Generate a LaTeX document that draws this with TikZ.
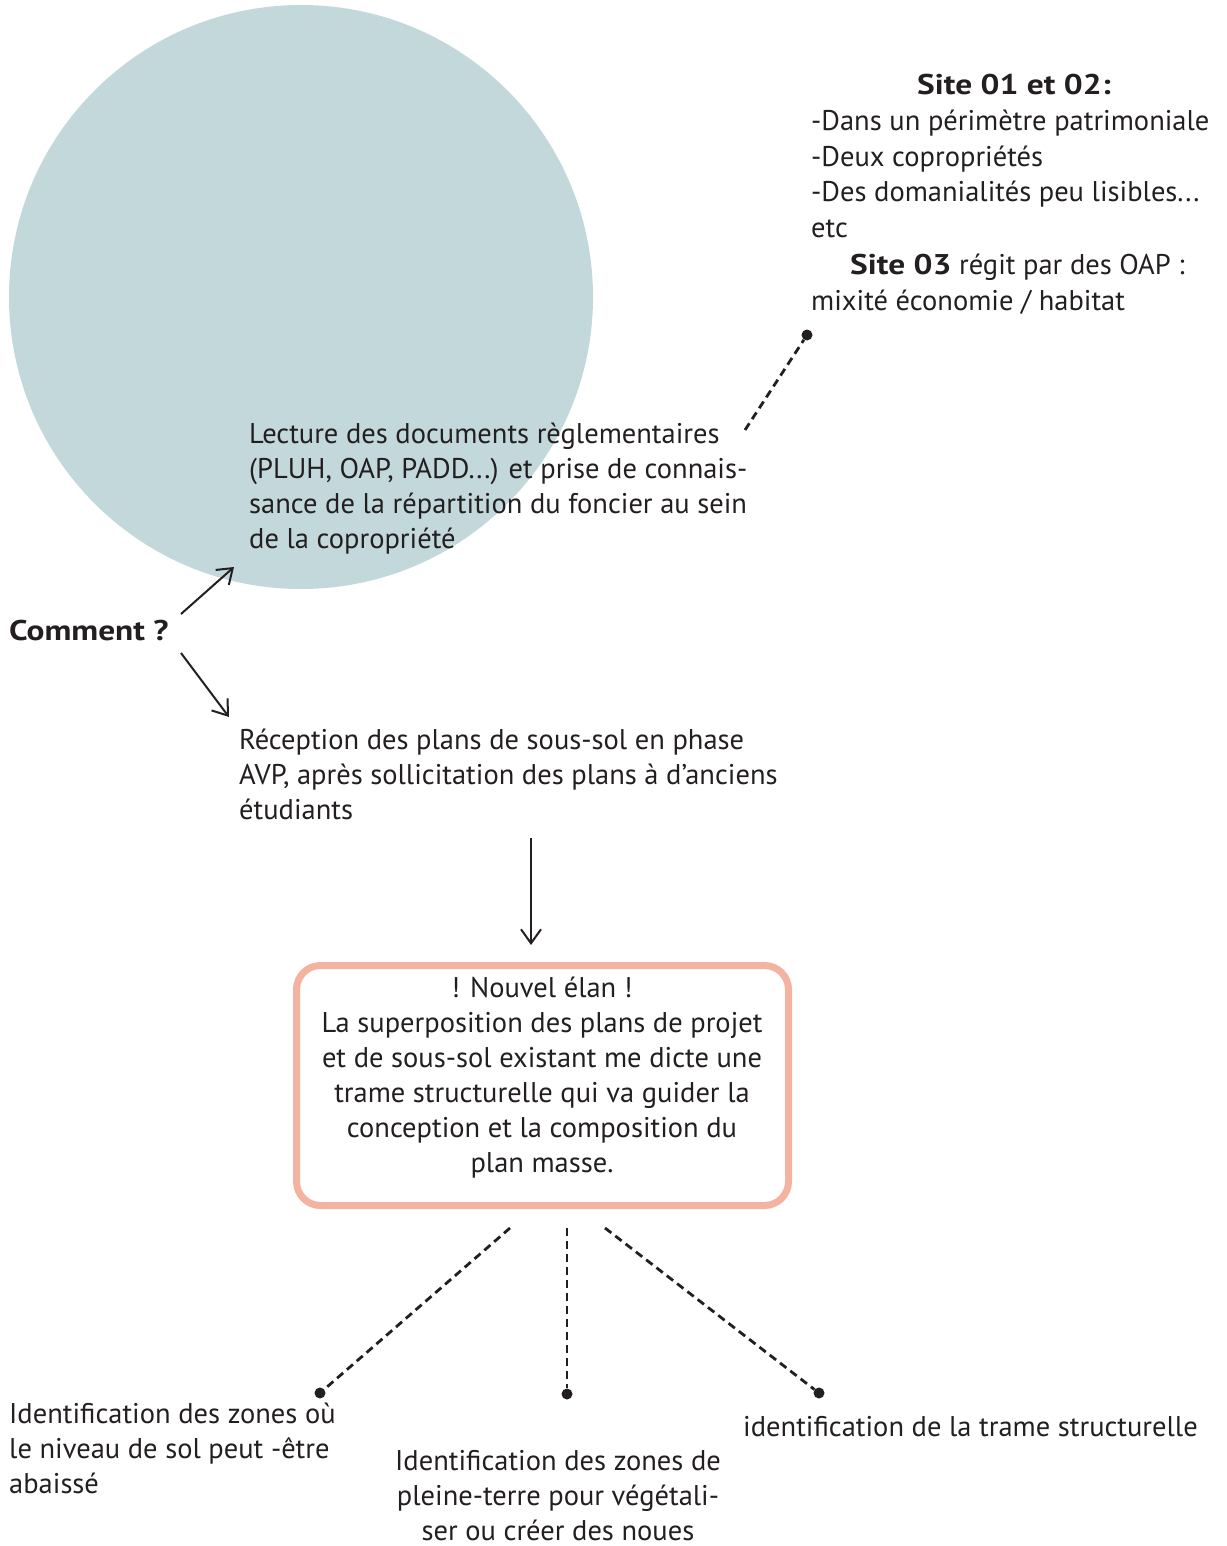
\documentclass[tikz,border=0pt]{standalone}
\usepackage{fontspec}
\setmainfont{PT Sans}
\usetikzlibrary{arrows.meta}
\definecolor{circfill}{HTML}{C3D8DB}
\definecolor{salmon}{HTML}{F4B3A0}
\definecolor{ink}{HTML}{231F20}
\newcommand{\wb}[1]{\scalebox{1.17}[1]{\bfseries #1}}
\begin{document}
\begin{tikzpicture}[x=1pt,y=-1pt,
  txt/.style={inner sep=0pt, text=ink, font=\fontsize{28.5}{35}\selectfont},
  dotnode/.style={circle, fill=ink, inner sep=0pt, minimum size=11pt},
  dashline/.style={draw=ink, line width=2.8pt, dash pattern=on 8pt off 5pt},
  arrowline/.style={draw=ink, line width=2pt, -{Straight Barb[length=14pt,width=20pt]}}
]
\useasboundingbox (0,0) rectangle (1226,1546);
% circle
\node[circle, fill=circfill, inner sep=0pt, minimum size=584pt] (bigcirc) at (301,297) {};
% site texts
\node[txt, anchor=base] (sitetitle) at (1014,95) {\wb{Site 01 et 02:}};
\node[txt, anchor=base west, align=left, font=\fontsize{28.5}{35.5}\selectfont] (sites) at (811,310) {-Dans un périmètre patrimoniale\\-Deux copropriétés\\-Des domanialités peu lisibles...\\etc\\[2pt]\hspace*{39pt}\wb{Site 03} régit par des OAP :\\mixité économie / habitat};
% lecture text
\node[txt, anchor=base west, align=left] (lecture) at (249,548) {Lecture des documents règlementaires\\(PLUH, OAP, PADD...) et prise de connais-\\sance de la répartition du foncier au sein\\de la copropriété};
% comment
\node[txt, anchor=base west] (comment) at (9,640) {\wb{Comment ?}};
% reception
\node[txt, anchor=base west, align=left] (reception) at (239,819) {Réception des plans de sous-sol en phase\\AVP, après sollicitation des plans à d’anciens\\étudiants};
% box
\node[draw=salmon, line width=7pt, rounded corners=24pt, minimum width=492pt, minimum height=240pt, inner sep=0pt] (box) at (542.5,1085.5) {};
\node[txt, anchor=base, align=center] (boxtext) at (542,1172) {! Nouvel élan !\\La superposition des plans de projet\\et de sous-sol existant me dicte une\\trame structurelle qui va guider la\\conception et la composition du\\plan masse.};
% bottom texts
\node[txt, anchor=base west, align=left] (bl) at (9,1493) {Identification des zones où\\le niveau de sol peut -être\\abaissé};
\node[txt, anchor=base, align=center] (bm) at (558,1540) {Identification des zones de\\pleine-terre pour végétali-\\ser ou créer des noues};
\node[txt, anchor=base west] (br) at (743,1436) {identification de la trame structurelle};
% dots
\node[dotnode] (d0) at (807,335) {};
\node[dotnode] (d1) at (320,1393) {};
\node[dotnode] (d2) at (567,1394) {};
\node[dotnode] (d3) at (819,1393) {};
% connector endpoints
\coordinate (s0) at (745,430);
\coordinate (s1) at (510,1228);
\coordinate (s2) at (567,1228);
\coordinate (s3) at (605,1228);
\coordinate (c1) at (181,614);
\coordinate (c1e) at (234,567);
\coordinate (c2) at (181,653);
\coordinate (c2e) at (229,717);
\coordinate (r1) at (531,838);
\coordinate (r1e) at (531,945);
% connectors
\draw[dashline] (s0) -- (d0);
\draw[dashline] (s1) -- (d1);
\draw[dashline] (s2) -- (d2);
\draw[dashline] (s3) -- (d3);
\draw[arrowline] (c1) -- (c1e);
\draw[arrowline] (c2) -- (c2e);
\draw[arrowline] (r1) -- (r1e);
\end{tikzpicture}
\end{document}
